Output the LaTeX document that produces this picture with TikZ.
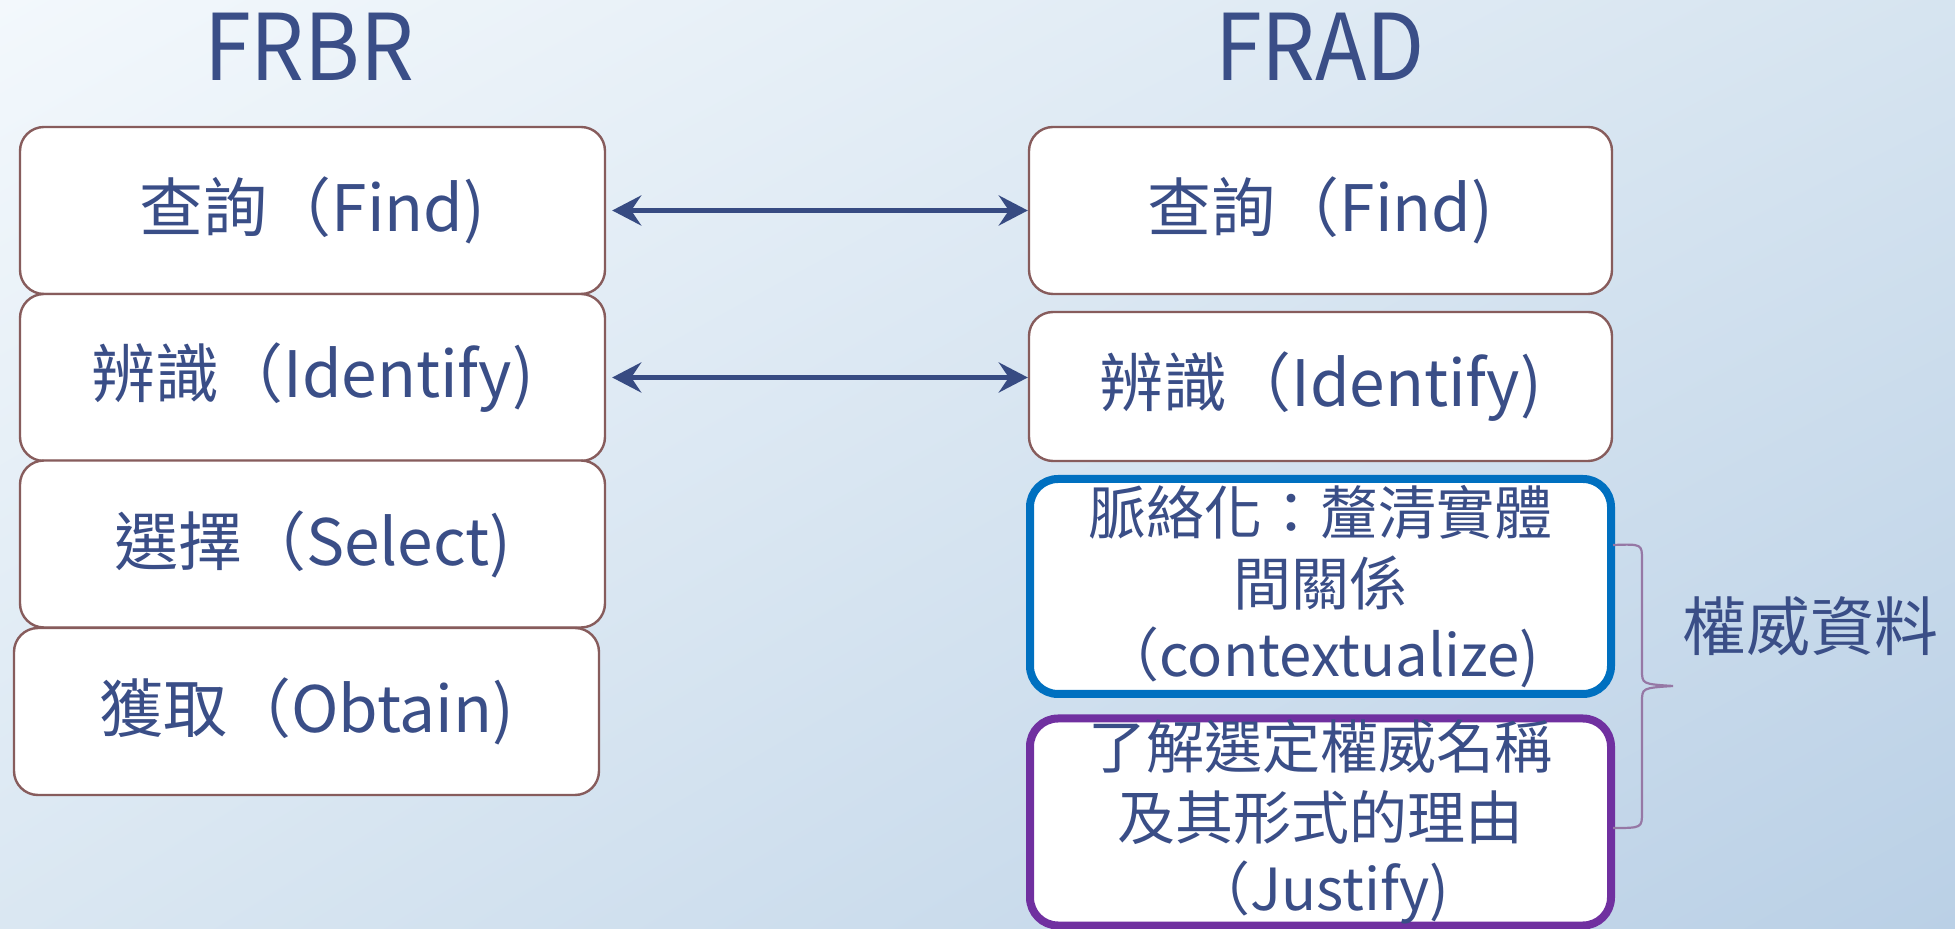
\documentclass[tikz,border=0pt]{standalone}
\usepackage{fontspec}
\usepackage{graphicx}
\setmainfont{Noto Sans CJK TC}
\usetikzlibrary{arrows.meta,shadings}
\definecolor{txtblue}{RGB}{58,78,135}
\definecolor{arrblue}{RGB}{55,75,130}
\definecolor{boxline}{RGB}{135,92,92}
\definecolor{ctxblue}{RGB}{0,112,192}
\definecolor{jusviolet}{RGB}{112,48,160}
\definecolor{bracecol}{RGB}{150,120,165}
\definecolor{bgTL}{RGB}{243,248,252}
\definecolor{bgTR}{RGB}{214,228,240}
\definecolor{bgBL}{RGB}{218,231,242}
\definecolor{bgBR}{RGB}{186,208,230}
\tikzset{
  fbox/.style={draw=boxline, line width=1.2pt, fill=white, rounded corners=12pt,
    minimum width=292.5pt, minimum height=83.5pt, inner sep=0pt,
    text=txtblue, font=\fontsize{32}{36}\selectfont},
  bigbox/.style={fill=white, line width=4pt, rounded corners=14pt,
    minimum width=290.5pt, inner sep=0pt, align=center,
    text=txtblue, font=\fontsize{29}{35.5}\selectfont},
  title/.style={text=txtblue, font=\fontsize{46}{50}\selectfont, anchor=base, inner sep=0pt},
  arr/.style={arrblue, line width=2.8pt, {Stealth[length=14.5pt,width=15pt,inset=5pt]}-{Stealth[length=14.5pt,width=15pt,inset=5pt]}},
}
\begin{document}
\begin{tikzpicture}[x=0.5pt,y=-0.5pt]
\shade[upper left=bgTL, upper right=bgTR, lower left=bgBL, lower right=bgBR] (0,0) rectangle (1955,929);
\useasboundingbox (0,0) rectangle (1955,929);
% titles
\node[title] (tfrbr) at (309,81) {\scalebox{0.92}[1]{FRBR}};
\node[title] (tfrad) at (1320,81) {\scalebox{0.92}[1]{FRAD}};
% FRBR boxes
\node[fbox] (lfind) at (312.5,210.5) {查詢（Find)};
\node[fbox] (lident) at (312.5,377.5) {辨識（Identify)};
\node[fbox] (lsel) at (312.5,544) {選擇（Select)};
\node[fbox] (lobt) at (306.5,711.5) {獲取（Obtain)};
% FRAD boxes
\node[fbox, minimum width=291.5pt] (rfind) at (1320.5,210.5) {查詢（Find)};
\node[fbox, minimum width=291.5pt, minimum height=74.5pt] (rident) at (1320.5,386.5) {辨識（Identify)};
\node[bigbox, draw=ctxblue, minimum height=107.5pt] (rctx) at (1320.5,586.5)
  {脈絡化：釐清實體\\間關係\\（contextualize)};
\node[bigbox, draw=jusviolet, minimum height=103.5pt] (rjus) at (1320.5,822)
  {了解選定權威名稱\\及其形式的理由\\（Justify)};
% arrows
\draw[arr, shorten <=3pt] (lfind.east) -- (rfind.west);
\draw[arr, shorten <=3pt] (lident.east) -- (lident.east -| rident.west);
% brace
\coordinate (btop) at (1613,545);
\coordinate (bbot) at (1613,828);
\coordinate (btip) at (1673,686);
\draw[bracecol, line width=1.1pt]
  (btop) .. controls (1642,544) .. (1642,560) -- (1642,670)
  .. controls (1642,684) .. (btip)
  .. controls (1642,688) .. (1642,702) -- (1642,812)
  .. controls (1642,828) .. (bbot);
\node[text=txtblue, font=\fontsize{32}{36}\selectfont, inner sep=0pt] (auth) at (1810,626) {權威資料};
\end{tikzpicture}
\end{document}
